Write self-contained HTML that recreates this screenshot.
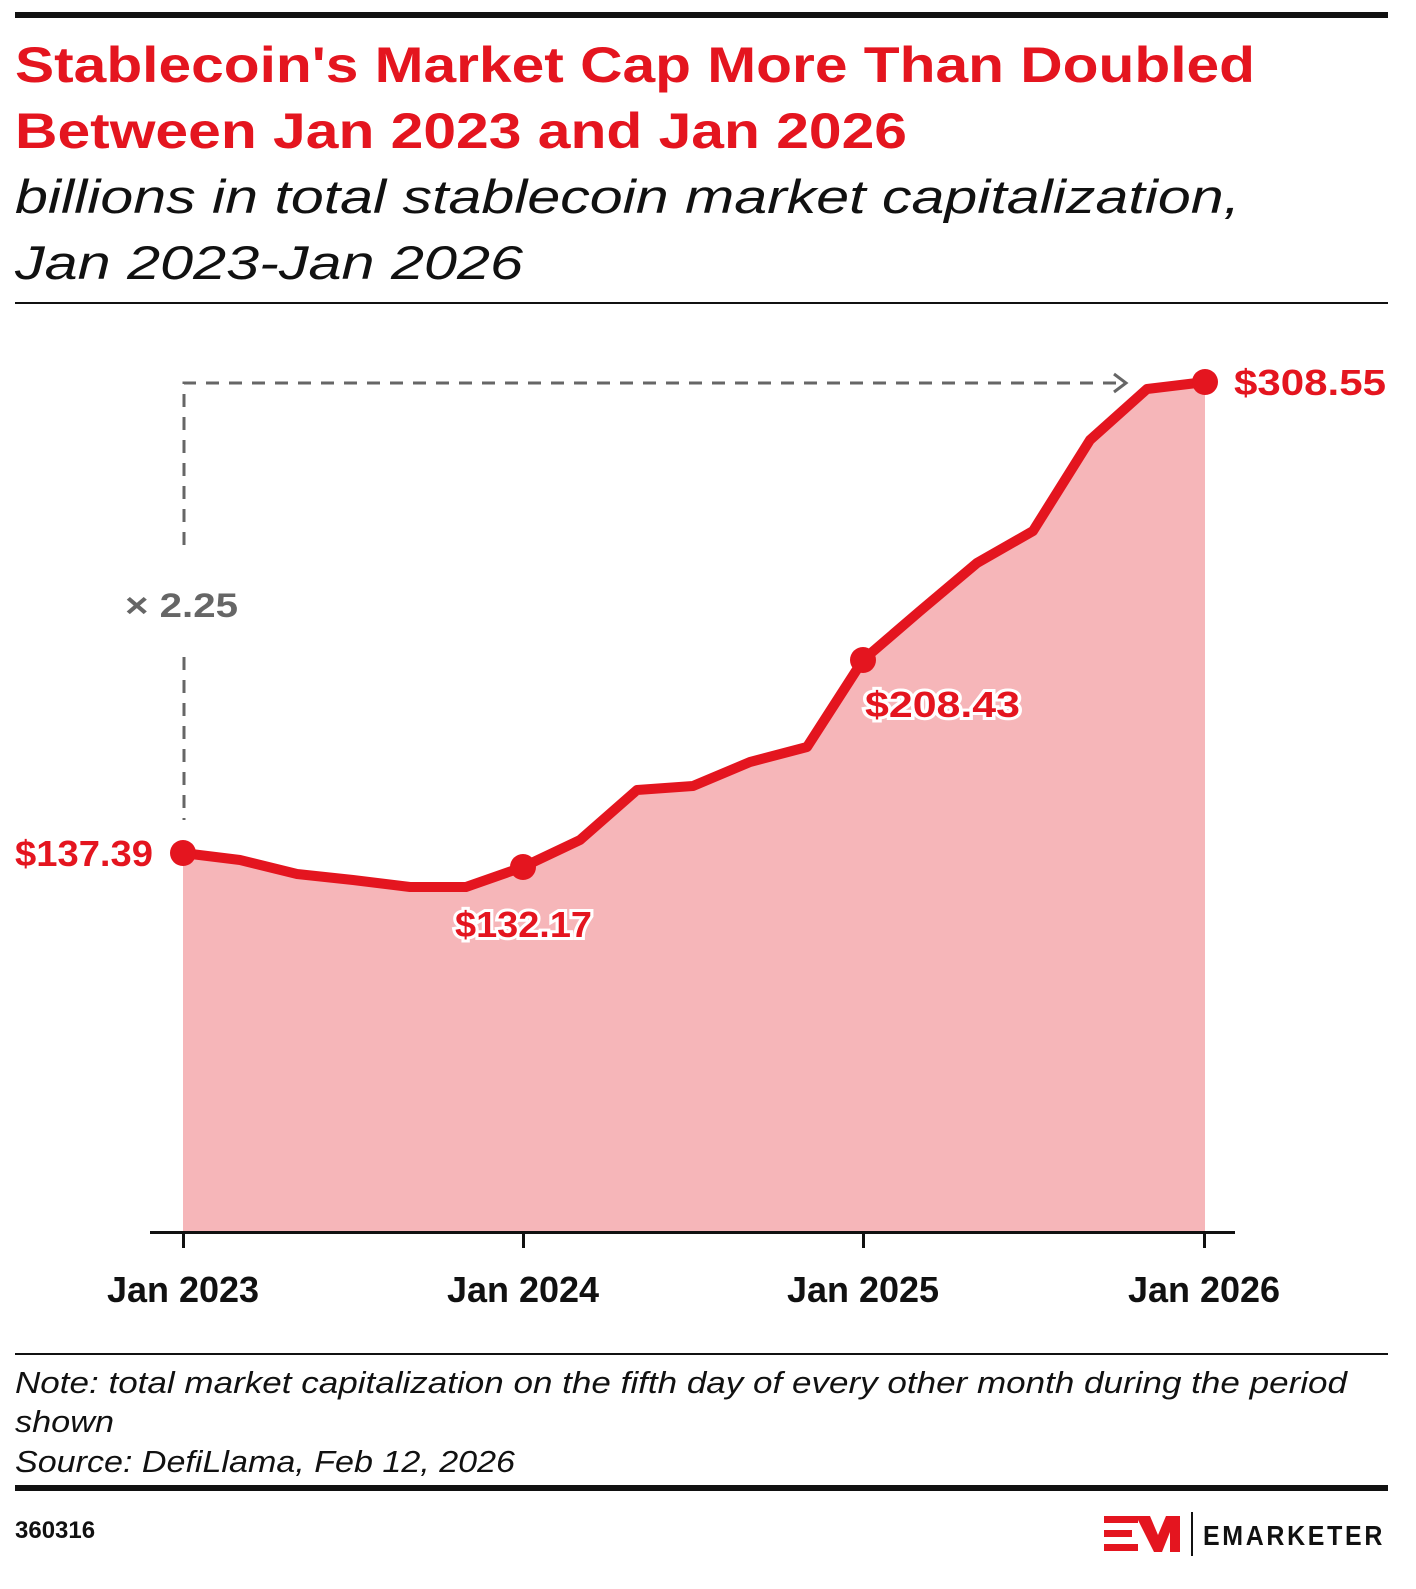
<!DOCTYPE html>
<html><head><meta charset="utf-8"><style>
body{margin:0;background:#fff;width:1416px;height:1584px;overflow:hidden;font-family:"Liberation Sans",sans-serif}
</style></head><body>
<svg width="1416" height="1584" xmlns="http://www.w3.org/2000/svg" font-family="Liberation Sans, sans-serif">
<rect x="15" y="12" width="1373" height="6" fill="#111"/>
<text x="15" y="82" font-size="50" font-weight="bold" fill="#e4151f" textLength="1240" lengthAdjust="spacingAndGlyphs">Stablecoin's Market Cap More Than Doubled</text>
<text x="15" y="148" font-size="50" font-weight="bold" fill="#e4151f" textLength="892" lengthAdjust="spacingAndGlyphs">Between Jan 2023 and Jan 2026</text>
<text x="15" y="213" font-size="47" font-style="italic" fill="#111" textLength="1225" lengthAdjust="spacingAndGlyphs">billions in total stablecoin market capitalization,</text>
<text x="15" y="279" font-size="47" font-style="italic" fill="#111" textLength="508" lengthAdjust="spacingAndGlyphs">Jan 2023-Jan 2026</text>
<rect x="15" y="302" width="1373" height="2" fill="#111"/>
<path d="M183,853 L240,860 L297,874 L353,880 L410,887 L466,887 L523,867 L580,840 L637,790 L693,786 L750,762 L807,747 L863,660 L920,611 L977,563 L1033,531 L1090,440 L1147,389 L1205,382 L1205,1233 L183,1233Z" fill="#f6b6b9"/>
<path d="M183,853 L240,860 L297,874 L353,880 L410,887 L466,887 L523,867 L580,840 L637,790 L693,786 L750,762 L807,747 L863,660 L920,611 L977,563 L1033,531 L1090,440 L1147,389 L1205,382" fill="none" stroke="#e4151f" stroke-width="10" stroke-linejoin="round"/>
<g fill="#e4151f"><circle cx="183" cy="853" r="13"/><circle cx="523" cy="867" r="13"/><circle cx="863" cy="660" r="13"/><circle cx="1205" cy="382" r="13"/></g>
<path d="M184,545 V383 H1125 M184,657 V820" fill="none" stroke="#666" stroke-width="3" stroke-dasharray="13,10"/>
<path d="M1114,374 L1126,383 L1114,392" fill="none" stroke="#666" stroke-width="3"/>
<text x="125" y="617" font-size="34" font-weight="bold" fill="#666" textLength="113" lengthAdjust="spacingAndGlyphs">× 2.25</text>
<g font-size="36" font-weight="bold" fill="#e4151f" stroke="#fff" stroke-width="6" paint-order="stroke">
<text x="15" y="866" textLength="138" lengthAdjust="spacingAndGlyphs">$137.39</text>
<text x="455" y="937" textLength="137" lengthAdjust="spacingAndGlyphs">$132.17</text>
<text x="865" y="717" textLength="155" lengthAdjust="spacingAndGlyphs">$208.43</text>
<text x="1234" y="395" textLength="152" lengthAdjust="spacingAndGlyphs">$308.55</text>
</g>
<rect x="150" y="1231" width="1085" height="3" fill="#111"/>
<g fill="#111"><rect x="182" y="1231" width="3" height="17"/><rect x="522" y="1231" width="3" height="17"/><rect x="862" y="1231" width="3" height="17"/><rect x="1203" y="1231" width="3" height="17"/></g>
<g font-size="36" font-weight="bold" fill="#111" text-anchor="middle">
<text x="183" y="1302">Jan 2023</text><text x="523" y="1302">Jan 2024</text><text x="863" y="1302">Jan 2025</text><text x="1204" y="1302">Jan 2026</text>
</g>
<rect x="15" y="1353" width="1373" height="2" fill="#111"/>
<g font-size="31" font-style="italic" fill="#111">
<text x="15" y="1393" textLength="1332" lengthAdjust="spacingAndGlyphs">Note: total market capitalization on the fifth day of every other month during the period</text>
<text x="15" y="1432" textLength="99" lengthAdjust="spacingAndGlyphs">shown</text>
<text x="15" y="1472" textLength="500" lengthAdjust="spacingAndGlyphs">Source: DefiLlama, Feb 12, 2026</text>
</g>
<rect x="15" y="1485" width="1373" height="6" fill="#111"/>
<text x="15" y="1538" font-size="24" font-weight="bold" fill="#111">360316</text>
<g fill="#e4151f">
<rect x="1104" y="1516" width="34" height="7"/><rect x="1104" y="1530" width="28" height="7"/><rect x="1104" y="1544" width="34" height="7"/>
<path d="M1136,1516 L1150,1516 L1158,1535 L1166,1516 L1180,1516 L1180,1552 L1170,1552 L1170,1532 L1162,1552 L1154,1552 Z"/>
</g>
<rect x="1191" y="1512" width="2" height="44" fill="#111"/>
<text x="1203" y="1545" font-size="28" font-weight="bold" fill="#111" letter-spacing="3" textLength="182" lengthAdjust="spacingAndGlyphs">EMARKETER</text>
</svg>
</body></html>
